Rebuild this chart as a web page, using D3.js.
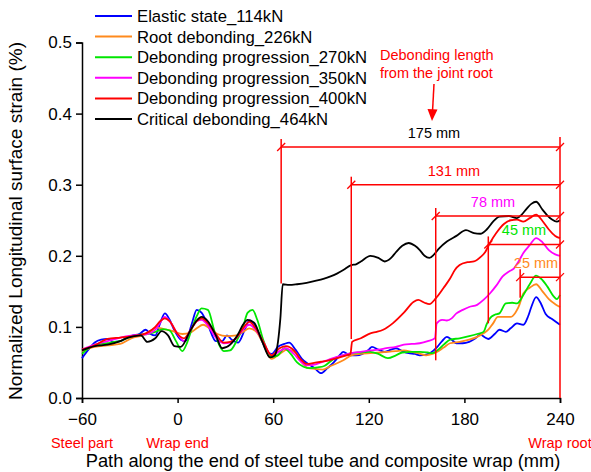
<!DOCTYPE html>
<html>
<head>
<meta charset="utf-8">
<script src="https://cdn.jsdelivr.net/npm/d3@7"></script>
<style>
  body { margin: 0; background: #fff; }
  text { font-family: "Liberation Sans", Arial, sans-serif; }
</style>
</head>
<body>
<svg id="chart" width="591" height="472"></svg>
<script>
// series: [path position (mm), normalized strain (%)]
const elastic114 = [[-60,0.056],[-56,0.068],[-52,0.078],[-48,0.082],[-44,0.083],[-40,0.079],[-36,0.080],[-32,0.085],[-28,0.088],[-24,0.090],[-20,0.096],[-17,0.090],[-14,0.088],[-11,0.105],[-8,0.119],[-5,0.110],[-2,0.095],[2,0.082],[5,0.080],[9,0.105],[12,0.124],[15,0.120],[19,0.103],[24,0.080],[28,0.080],[31,0.088],[34,0.082],[38,0.078],[42,0.095],[45,0.109],[48,0.104],[52,0.085],[56,0.066],[59,0.062],[63,0.072],[67,0.076],[70,0.078],[74,0.068],[78,0.055],[82,0.048],[86,0.042],[90,0.035],[94,0.042],[98,0.050],[101,0.058],[104,0.065],[108,0.060],[112,0.060],[116,0.062],[120,0.068],[122,0.072],[126,0.068],[130,0.065],[134,0.068],[137,0.070],[141,0.066],[145,0.063],[149,0.062],[152,0.060],[156,0.061],[159,0.064],[163,0.072],[166,0.080],[169,0.086],[172,0.082],[175,0.077],[179,0.077],[183,0.079],[187,0.084],[190,0.089],[193,0.085],[195,0.083],[199,0.090],[202,0.096],[206,0.093],[209,0.098],[213,0.105],[217,0.103],[220,0.115],[222,0.128],[225,0.142],[228,0.133],[231,0.118],[235,0.111],[240,0.103]]
const root226 = [[-60,0.066],[-52,0.072],[-44,0.074],[-36,0.076],[-28,0.085],[-22,0.088],[-17,0.094],[-13,0.099],[-9,0.097],[-3,0.094],[3,0.090],[8,0.092],[12,0.098],[16,0.103],[20,0.098],[25,0.090],[31,0.087],[37,0.088],[41,0.093],[45,0.098],[49,0.094],[53,0.080],[59,0.055],[64,0.062],[69,0.068],[74,0.064],[78,0.050],[82,0.042],[86,0.041],[91,0.040],[96,0.045],[104,0.053],[109,0.060],[115,0.062],[121,0.063],[127,0.064],[132,0.065],[137,0.066],[142,0.067],[147,0.065],[151,0.063],[156,0.060],[160,0.062],[163,0.065],[167,0.071],[171,0.077],[177,0.079],[183,0.082],[188,0.086],[192,0.091],[195,0.096],[198,0.105],[201,0.114],[205,0.114],[209,0.114],[212,0.120],[214,0.128],[217,0.147],[221,0.155],[225,0.160],[229,0.150],[233,0.139],[237,0.132],[240,0.128]]
const progress270 = [[-60,0.062],[-56,0.070],[-52,0.075],[-48,0.076],[-44,0.077],[-40,0.079],[-36,0.080],[-32,0.084],[-28,0.087],[-24,0.089],[-19,0.090],[-14,0.093],[-9,0.097],[-5,0.095],[-1,0.080],[3,0.066],[6,0.078],[9,0.098],[12,0.115],[15,0.126],[19,0.124],[23,0.095],[26,0.075],[29,0.066],[33,0.067],[37,0.080],[41,0.100],[44,0.120],[47,0.124],[50,0.110],[54,0.080],[59,0.058],[63,0.060],[67,0.070],[71,0.062],[75,0.050],[79,0.044],[83,0.042],[88,0.043],[92,0.045],[98,0.055],[104,0.060],[109,0.063],[115,0.064],[121,0.065],[126,0.062],[132,0.056],[137,0.060],[141,0.064],[147,0.065],[152,0.065],[157,0.064],[160,0.063],[163,0.067],[167,0.075],[171,0.082],[177,0.084],[183,0.087],[188,0.090],[192,0.093],[194,0.104],[196,0.112],[199,0.117],[202,0.119],[206,0.133],[210,0.134],[213,0.133],[217,0.145],[221,0.160],[225,0.172],[228,0.168],[232,0.157],[236,0.143],[238,0.139],[240,0.145]]
const progress350 = [[-60,0.068],[-52,0.075],[-44,0.080],[-36,0.085],[-28,0.088],[-19,0.090],[-14,0.096],[-11,0.106],[-8,0.114],[-5,0.108],[0,0.090],[4,0.080],[8,0.095],[12,0.108],[15,0.110],[18,0.105],[24,0.085],[29,0.077],[33,0.078],[37,0.085],[41,0.096],[45,0.103],[49,0.096],[54,0.078],[59,0.060],[64,0.066],[68,0.070],[73,0.062],[77,0.052],[81,0.046],[86,0.047],[90,0.050],[95,0.054],[100,0.058],[109,0.063],[115,0.065],[121,0.067],[126,0.068],[131,0.070],[137,0.072],[142,0.075],[147,0.076],[152,0.077],[157,0.080],[161.5,0.084],[162.6,0.105],[166,0.110],[169,0.109],[172,0.112],[175,0.119],[179,0.124],[183,0.128],[188,0.131],[192,0.138],[196,0.147],[200,0.158],[204,0.171],[208,0.178],[211,0.182],[214,0.192],[217,0.204],[221,0.215],[225,0.225],[229,0.219],[233,0.208],[237,0.202],[240,0.200]]
const progress400 = [[-60,0.068],[-52,0.074],[-44,0.083],[-36,0.085],[-28,0.087],[-19,0.092],[-14,0.100],[-11,0.108],[-8,0.112],[-5,0.108],[0,0.090],[4,0.084],[8,0.095],[12,0.108],[15,0.112],[18,0.108],[24,0.090],[29,0.078],[33,0.079],[37,0.085],[41,0.098],[45,0.107],[49,0.098],[54,0.078],[59,0.060],[64,0.070],[68,0.073],[73,0.067],[77,0.055],[81,0.048],[85,0.049],[90,0.051],[95,0.053],[100,0.056],[106,0.060],[108.5,0.062],[109.5,0.079],[115,0.084],[121,0.091],[125,0.093],[129,0.096],[135,0.105],[142,0.120],[148,0.135],[151,0.138],[155,0.134],[158,0.132],[162,0.140],[167,0.155],[171,0.168],[174,0.180],[177,0.187],[182,0.191],[186,0.192],[190,0.198],[193,0.205],[196,0.218],[200,0.232],[205,0.245],[209,0.250],[213,0.251],[217,0.248],[221,0.253],[225,0.258],[229,0.249],[233,0.237],[237,0.228],[240,0.225]]
const critical464 = [[-60,0.067],[-52,0.073],[-44,0.075],[-36,0.080],[-31,0.085],[-27,0.087],[-23,0.088],[-19,0.079],[-14,0.084],[-10,0.094],[-6,0.088],[-2,0.073],[2,0.072],[8,0.095],[12,0.109],[15,0.114],[19,0.108],[24,0.088],[28,0.070],[33,0.075],[38,0.090],[41,0.103],[44,0.110],[48,0.106],[53,0.080],[58,0.057],[61,0.060],[63,0.079],[64.5,0.112],[66,0.160],[70,0.159],[75,0.160],[81,0.162],[87,0.165],[92,0.168],[96,0.171],[100,0.175],[104,0.180],[109,0.187],[112,0.188],[115,0.192],[121,0.200],[126,0.197],[130,0.192],[134,0.197],[137,0.205],[141,0.214],[145,0.218],[149,0.214],[152,0.208],[155,0.200],[158,0.197],[161,0.202],[164,0.210],[169,0.220],[175,0.228],[181,0.236],[186,0.232],[190,0.231],[194,0.237],[198,0.248],[202,0.255],[208,0.256],[213,0.253],[216,0.258],[219,0.266],[222,0.273],[225,0.276],[229,0.265],[232,0.257],[235,0.251],[238,0.248],[240,0.250]]

const seriesNames = ["Elastic state_114kN", "Root debonding_226kN", "Debonding progression_270kN", "Debonding progression_350kN", "Debonding progression_400kN", "Critical debonding_464kN"]
const seriesData = [elastic114, root226, progress270, progress350, progress400, critical464]
const seriesColors = ["#0000ff", "#ff8a1c", "#00e600", "#ff00ff", "#ff0000", "#000000"]

const xTicks = [-60, 0, 60, 120, 180, 240]
const yTicks = [0, 0.1, 0.2, 0.3, 0.4, 0.5]

// debonding lengths measured back from the wrap root (240 mm)
const dimLengths = [175, 131, 78, 45, 25]
const dimLevels = [0.353, 0.3, 0.256, 0.216, 0.17]     // height of each dimension line
const dimFoot = [0.161, 0.083, 0.053, 0.105, 0.141]    // lower end of the left extension line
const dimColors = ["#000000", "#ff0000", "#ff00ff", "#00e600", "#ff8a1c"]
const dimLabelX = [434, 454, 493, 524, 536]

const bottomLabels = [[-60, "Steel part"], [0, "Wrap end"], [240, "Wrap root"]]

const svg = d3.select("#chart")

const x = d3.scaleLinear().domain([-60, 240]).range([82, 560])
const y = d3.scaleLinear().domain([0, 0.5]).range([398, 42.5])

// axes
svg.append("g")
    .attr("transform", "translate(0,398)")
    .call(d3.axisBottom(x).tickValues(xTicks).tickSize(5).tickPadding(10).tickFormat(d3.format("d")))
    .call(g => g.selectAll("text").attr("font-size", "17px").attr("fill", "#000"))
    .call(g => g.selectAll("line, path").attr("stroke", "#000").attr("stroke-width", 1.5))

svg.append("g")
    .attr("transform", "translate(82,0)")
    .call(d3.axisLeft(y).tickValues(yTicks).tickSize(6).tickPadding(4).tickFormat(d3.format(".1f")))
    .call(g => g.selectAll("text").attr("font-size", "17px").attr("fill", "#000"))
    .call(g => g.selectAll("line, path").attr("stroke", "#000").attr("stroke-width", 1.5))

// axis titles
svg.append("text")
    .attr("x", 323)
    .attr("y", 467)
    .attr("text-anchor", "middle")
    .attr("font-size", "18.3px")
    .text("Path along the end of steel tube and composite wrap (mm)")

svg.append("text")
    .attr("transform", "translate(21.5,221)rotate(-90)")
    .attr("text-anchor", "middle")
    .attr("font-size", "19px")
    .text("Normalized Longitudinal surface strain (%)")

svg.selectAll(".bottomLabel")
    .data(bottomLabels)
    .enter()
    .append("text")
    .attr("class", "bottomLabel")
    .attr("x", d => x(d[0]))
    .attr("y", 448)
    .attr("text-anchor", "middle")
    .attr("font-size", "14.5px")
    .attr("fill", "#ff0000")
    .text(d => d[1])

// curves
const line = d3.line()
    .x(d => x(d[0]))
    .y(d => y(d[1]))
    .curve(d3.curveMonotoneX)

svg.selectAll(".curve")
    .data(seriesData)
    .enter()
    .append("path")
    .attr("class", "curve")
    .attr("d", line)
    .attr("fill", "none")
    .attr("stroke", (d, i) => seriesColors[i])
    .attr("stroke-width", 1.8)
    .attr("stroke-linejoin", "round")

// dimension lines
const dims = svg.append("g")
const red = "#ff0000"
const slash = (cx, cy) => {
    dims.append("line")
        .attr("x1", cx - 4).attr("y1", cy + 4)
        .attr("x2", cx + 4).attr("y2", cy - 4)
        .attr("stroke", red).attr("stroke-width", 1.3)
}

dimLengths.forEach((len, i) => {
    const x0 = x(240 - len)
    const x1 = x(240)
    const yl = y(dimLevels[i])
    dims.append("line")
        .attr("x1", x0).attr("y1", yl)
        .attr("x2", x1).attr("y2", yl)
        .attr("stroke", red).attr("stroke-width", 1.5)
    dims.append("line")
        .attr("x1", x0).attr("y1", yl - 8)
        .attr("x2", x0).attr("y2", y(dimFoot[i]))
        .attr("stroke", red).attr("stroke-width", 1.5)
    slash(x0, yl)
    slash(x1, yl)
    dims.append("text")
        .attr("x", dimLabelX[i])
        .attr("y", yl - 9)
        .attr("text-anchor", "middle")
        .attr("font-size", "14.5px")
        .attr("fill", dimColors[i])
        .text(len + " mm")
})

// extension line at the wrap root
dims.append("line")
    .attr("x1", x(240)).attr("y1", y(dimLevels[0]) - 10)
    .attr("x2", x(240)).attr("y2", y(0))
    .attr("stroke", red).attr("stroke-width", 1.5)

// note with arrow
svg.append("text")
    .attr("x", 380)
    .attr("y", 60)
    .attr("font-size", "14.5px")
    .attr("fill", red)
    .text("Debonding length")
svg.append("text")
    .attr("x", 380)
    .attr("y", 78)
    .attr("font-size", "14.5px")
    .attr("fill", red)
    .text("from the joint root")

svg.append("line")
    .attr("x1", 434).attr("y1", 84)
    .attr("x2", 432.6).attr("y2", 110)
    .attr("stroke", red).attr("stroke-width", 1.5)
svg.append("path")
    .attr("d", "M427.5,109 L437.5,109.5 L432,121 Z")
    .attr("fill", red)

// legend
const legend = svg.append("g")
seriesNames.forEach((name, i) => {
    const ly = 16 + i * 20.6
    legend.append("line")
        .attr("x1", 95).attr("x2", 132)
        .attr("y1", ly).attr("y2", ly)
        .attr("stroke", seriesColors[i])
        .attr("stroke-width", 2)
    legend.append("text")
        .attr("x", 137)
        .attr("y", ly + 6)
        .attr("font-size", "16.7px")
        .text(name)
})
</script>
</body>
</html>
